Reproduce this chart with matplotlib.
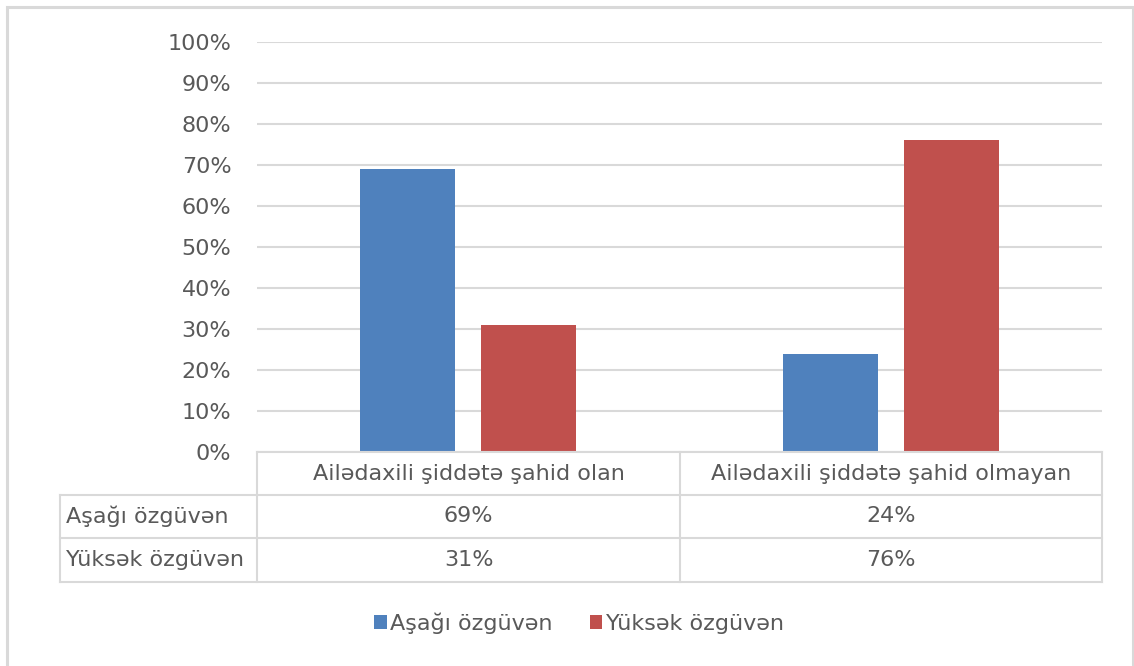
import matplotlib
matplotlib.use("Agg")
import matplotlib.pyplot as plt
from matplotlib.patches import Rectangle
from matplotlib.lines import Line2D
import numpy as np

plt.rcParams['font.family'] = ['DejaVu Sans']

categories = ["Ailədaxili şiddətə şahid olan", "Ailədaxili şiddətə şahid olmayan"]
series_names = ["Aşağı özgüvən", "Yüksək özgüvən"]
low_values = [0.69, 0.24]
high_values = [0.31, 0.76]
series_values = [low_values, high_values]
series_colors = ["#4F81BD", "#C0504D"]
y_ticks = [0, 0.1, 0.2, 0.3, 0.4, 0.5, 0.6, 0.7, 0.8, 0.9, 1.0]
y_tick_labels = ["0%", "10%", "20%", "30%", "40%", "50%", "60%", "70%", "80%", "90%", "100%"]

W, H = 1134, 666
fig = plt.figure(figsize=(W / 100, H / 100), dpi=100)
TXT = "#595959"
GRID = "#D9D9D9"
FS = 16.0

def fx(px):
    return px / W

def fy(py):
    return 1 - py / H

# outer frame
fig.add_artist(Rectangle((fx(7), fy(700)), fx(1133) - fx(7), fy(7) - fy(700),
                         transform=fig.transFigure, fill=False, edgecolor=GRID, lw=2.2))

left, right, top, bottom = 257, 1102, 42, 452
ax = fig.add_axes([fx(left), fy(bottom), fx(right) - fx(left), fy(top) - fy(bottom)])
ax.set_xlim(-0.5, len(categories) - 0.5)
ax.set_ylim(0, 1)
for s in ax.spines.values():
    s.set_visible(False)
ax.set_yticks(y_ticks)
ax.set_yticklabels(y_tick_labels)
ax.tick_params(axis='y', length=0, pad=18.5, labelsize=FS, labelcolor=TXT)
ax.set_xticks([])
ax.yaxis.grid(True, color=GRID, lw=1.5)
ax.set_axisbelow(True)

x = np.arange(len(categories))
bw = 0.225
offs = [-0.143, 0.143]
for vals, col, off, name in zip(series_values, series_colors, offs, series_names):
    ax.bar(x + off, vals, width=bw, color=col, label=name, zorder=3)

# data table
row_y = [452, 495, 538, 582]
col_x = [60, 257, 680, 1102]
lw = 1.5
fig.add_artist(Line2D([fx(257), fx(1102)], [fy(452), fy(452)], color=GRID, lw=lw))
for yy in row_y[1:]:
    fig.add_artist(Line2D([fx(60), fx(1102)], [fy(yy), fy(yy)], color=GRID, lw=lw))
fig.add_artist(Line2D([fx(60), fx(60)], [fy(495), fy(582)], color=GRID, lw=lw))
for xx in col_x[1:]:
    fig.add_artist(Line2D([fx(xx), fx(xx)], [fy(452), fy(582)], color=GRID, lw=lw))

for i, cat in enumerate(categories):
    cx = (col_x[i + 1] + col_x[i + 2]) / 2
    fig.text(fx(cx), fy((row_y[0] + row_y[1]) / 2), cat, ha='center', va='center',
             fontsize=FS, color=TXT)
for r, (name, vals) in enumerate(zip(series_names, series_values)):
    yc = (row_y[r + 1] + row_y[r + 2]) / 2
    fig.text(fx(66), fy(yc), name, ha='left', va='center', fontsize=FS, color=TXT)
    for i, v in enumerate(vals):
        cx = (col_x[i + 1] + col_x[i + 2]) / 2
        fig.text(fx(cx), fy(yc), f"{round(v * 100)}%", ha='center', va='center',
                 fontsize=FS, color=TXT)

handles, labels = ax.get_legend_handles_labels()
leg = fig.legend(handles, labels, loc='center', bbox_to_anchor=(fx(579), fy(623)),
                 ncol=2, frameon=False, fontsize=FS, handlelength=0.55, handleheight=0.55,
                 handletextpad=0.15, columnspacing=1.7, labelcolor=TXT)

fig.savefig("out.png", dpi=100)
